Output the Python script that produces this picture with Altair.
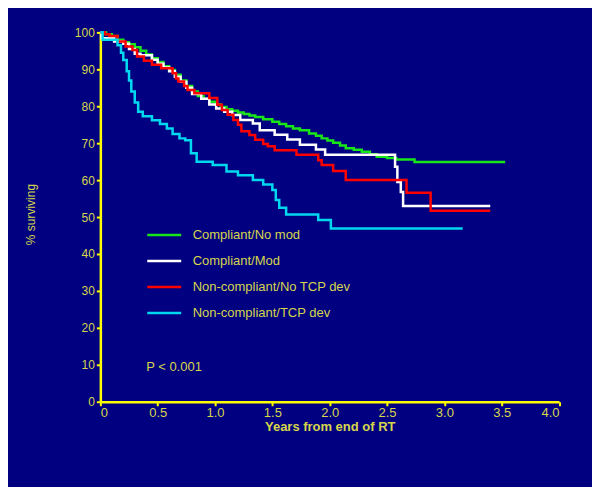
import altair as alt
import pandas as pd

# ---- data ----
green_t = [0, 0.05, 0.1, 0.15, 0.2, 0.25, 0.3, 0.35, 0.4, 0.45, 0.5, 0.55, 0.6, 0.65, 0.7, 0.75,
           0.8, 0.85, 0.9, 0.95, 1.0, 1.05, 1.1, 1.15, 1.2, 1.25, 1.3, 1.35, 1.42, 1.5, 1.56, 1.62,
           1.68, 1.74, 1.82, 1.88, 1.93, 1.98, 2.03, 2.09, 2.14, 2.21, 2.28, 2.35, 2.41, 2.5, 2.58,
           2.74, 3.53]
green_s = [100, 99.5, 99, 98, 97.3, 96.8, 96, 95, 94, 93, 92, 90.8, 89.8, 88.5, 87, 85.5,
           84, 82.8, 82, 81.2, 80.5, 79.8, 79.2, 78.8, 78.3, 77.9, 77.5, 77.1, 76.5, 75.8, 75.2, 74.6,
           74, 73.5, 72.6, 72, 71.3, 70.7, 70.1, 69.4, 68.6, 68.2, 67.7, 67, 66.3, 66, 65.6,
           64.9, 64.9]

white_t = [0, 0.01, 0.12, 0.2, 0.25, 0.3, 0.35, 0.45, 0.5, 0.55, 0.6, 0.65, 0.7, 0.75, 0.8,
           0.88, 0.95, 1.01, 1.08, 1.15, 1.22, 1.33, 1.39, 1.52, 1.63, 1.74, 1.88, 1.96, 2.57,
           2.59, 2.62, 2.64, 3.40]
white_s = [100, 98.4, 97.5, 96.9, 95.5, 94.2, 93.8, 92.6, 91.5, 90.5, 89.5, 88, 86.6, 85, 83.3,
           82, 80.5, 79.4, 78.5, 77.6, 76.3, 75.3, 73.5, 72.3, 71, 69.6, 68.3, 66.9, 63.6,
           59.5, 56.8, 53, 53]

red_t = [0, 0.04, 0.08, 0.15, 0.22, 0.28, 0.32, 0.38, 0.45, 0.53, 0.63, 0.66, 0.68, 0.73, 0.76,
         0.82, 0.95, 1.02, 1.06, 1.11, 1.16, 1.20, 1.23, 1.30, 1.35, 1.42, 1.46, 1.52, 1.71, 1.90,
         1.93, 2.03, 2.14, 2.67, 2.88, 3.40]
red_s = [100, 99.5, 99, 97.5, 96.2, 95.2, 93.5, 92.3, 91.2, 90.3, 88.9, 87.5, 86.7, 85.5, 84.4,
         83.5, 82.2, 80.4, 79, 77.7, 76.3, 75, 73.2, 72.2, 70.9, 69.8, 69.2, 68.1, 66.9, 65.4,
         64.1, 62.5, 60, 56.6, 51.7, 51.7]

cyan_t = [0, 0.02, 0.12, 0.15, 0.18, 0.2, 0.23, 0.25, 0.27, 0.3, 0.33, 0.37, 0.45, 0.52, 0.58,
          0.63, 0.69, 0.74, 0.79, 0.84, 0.98, 1.10, 1.2, 1.33, 1.42, 1.50, 1.53, 1.56, 1.62, 1.90,
          2.01, 3.16]
cyan_s = [100, 98, 98, 96.5, 94.5, 92.5, 89.5, 87, 84, 81, 78.5, 77.3, 76.2, 75.2, 74,
          72.5, 71.3, 70.8, 67.3, 65, 64.1, 62.3, 61.3, 60, 58.8, 57.3, 54.6, 52.5, 50.7, 49.2,
          46.9, 46.9]

groups = ["Compliant/No mod", "Compliant/Mod", "Non-compliant/No TCP dev", "Non-compliant/TCP dev"]
colors = ["#19E619", "#FFFFFF", "#FF0000", "#00D8F0"]

x_ticks = [0, 0.5, 1.0, 1.5, 2.0, 2.5, 3.0, 3.5, 4.0]
y_ticks = [0, 10, 20, 30, 40, 50, 60, 70, 80, 90, 100]

p_text = ["P < 0.001"]
p_x = [0.40]
p_y = [9.5]

# ---- build table ----
rows = []
for g, ts, ss in zip(groups, [green_t, white_t, red_t, cyan_t], [green_s, white_s, red_s, cyan_s]):
    for t, s in zip(ts, ss):
        rows.append({"group": g, "t": t, "s": s})
df = pd.DataFrame(rows)
pdf = pd.DataFrame({"t": p_x, "s": p_y, "label": p_text})

YEL = "#FFFF00"
TXT = "#D6D64C"
FONT = "Liberation Sans"

x_enc = alt.X("t:Q", scale=alt.Scale(domain=[0, 4], nice=False),
              axis=alt.Axis(values=x_ticks, title="Years from end of RT",
                            labelExpr="datum.value == 0 ? '0' : format(datum.value, '.1f')",
                            labelFontSize=13, titleFontSize=13, titleFontWeight="bold",
                            titleY=25, titleBaseline="middle", labelPadding=1, tickSize=4,
                            labelOverlap=False))
y_enc = alt.Y("s:Q", scale=alt.Scale(domain=[0, 100], nice=False),
              axis=alt.Axis(values=y_ticks, title="% surviving", labelFontSize=12,
                            titleFontSize=12, titleFontWeight="normal",
                            titleX=-70, titleY=182, titleAngle=270, titleAlign="center",
                            titleBaseline="middle", labelPadding=2, tickSize=4,
                            labelOverlap=False))

lines = alt.Chart(df).mark_line(interpolate="step-after", strokeWidth=2.5).encode(
    x=x_enc,
    y=y_enc,
    color=alt.Color("group:N", scale=alt.Scale(domain=groups, range=colors),
                    legend=alt.Legend(title=None, orient="none", legendX=45.5, legendY=196,
                                      symbolType="stroke", symbolSize=1156, symbolStrokeWidth=2.5,
                                      clipHeight=14, rowPadding=12, labelOffset=10,
                                      labelFontSize=13, labelColor=TXT, labelFont=FONT,
                                      padding=0, symbolOffset=0)),
    detail="group:N",
    order="t:Q",
)

ptext = alt.Chart(pdf).mark_text(align="left", baseline="middle", fontSize=13,
                                  color=TXT, font=FONT).encode(
    x=x_enc, y=y_enc, text="label:N")

chart = alt.layer(lines, ptext).properties(
    width=459.5, height=370,
    background="#000080",
    padding={"left": 92.5, "top": 24, "right": 33, "bottom": 85},
    autosize=alt.AutoSizeParams(type="none"),
).configure_view(stroke=None).configure_axis(
    grid=False, domainColor=YEL, domainWidth=2.5, tickColor=YEL, tickWidth=2,
    labelColor=TXT, titleColor=TXT, labelFont=FONT, titleFont=FONT,
)

chart.save("out.html", embed_options={"renderer": "svg", "actions": False})
